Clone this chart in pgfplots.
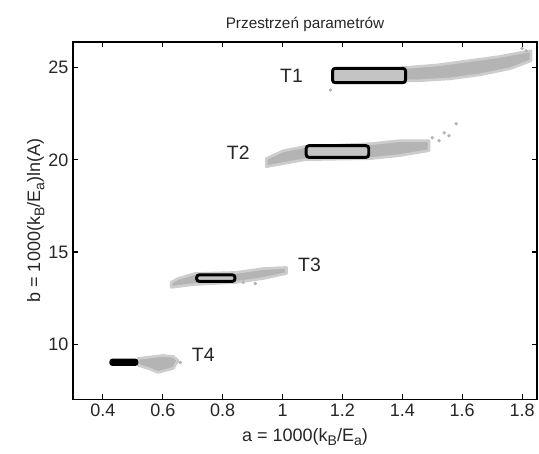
\documentclass[border=0pt]{standalone}
\usepackage{fontspec}
\setmainfont{Liberation Sans}
\usepackage{pgfplots}
\pgfplotsset{compat=1.18}
\definecolor{cloud}{RGB}{180,180,180}
\definecolor{cloudedge}{RGB}{205,205,205}
\definecolor{boxfill}{RGB}{196,196,196}
\newcommand{\sub}[1]{\raisebox{-0.45ex}{\fontsize{10.5}{12}\selectfont #1}}
\begin{document}
\begin{tikzpicture}
\begin{axis}[
  scale only axis, width=348pt, height=268pt,
  xmin=0.3, xmax=1.85, ymin=7, ymax=26.4,
  xtick={0.4,0.6,0.8,1,1.2,1.4,1.6,1.8},
  xticklabels={0.4,0.6,0.8,1,1.2,1.4,1.6,1.8},
  ytick={10,15,20,25},
  /pgf/number format/assume math mode=true,
  tick align=inside, major tick length=4pt,
  axis line style={line width=1pt},
  tick style={line width=0.8pt, black},
  ticklabel style={font=\fontsize{13.5}{16}\selectfont, text=black!85},
  label style={font=\fontsize{13.5}{16}\selectfont, text=black!85},
  title style={font=\fontsize{11.5}{14}\selectfont, text=black!85, yshift=-2pt},
  title={Przestrzeń parametrów},
  xlabel={a = 1000(k\sub{B}/E\sub{a})},
  ylabel={b = 1000(k\sub{B}/E\sub{a})ln(A)},
  xlabel style={yshift=-2pt},
  ylabel style={yshift=-4pt},
  clip=false,
]
% parameter clouds
\addplot[fill=cloud, draw=cloudedge, line width=2pt, line join=round] coordinates {
  (1.40,25.00) (1.52,25.16) (1.62,25.38) (1.72,25.60) (1.79,25.81) (1.83,25.92)
  (1.83,25.38) (1.76,24.95) (1.66,24.62) (1.56,24.40) (1.46,24.30) (1.40,24.30)} -- cycle;
\addplot[fill=cloud, draw=cloudedge, line width=2pt, line join=round] coordinates {
  (0.946,19.63) (1.02,19.85) (1.074,20.01) (1.295,20.07) (1.389,20.23) (1.489,20.50)
  (1.489,21.04) (1.389,21.04) (1.295,20.88) (1.074,20.72) (1.003,20.50) (0.946,20.07)} -- cycle;
\addplot[fill=cloud, draw=cloudedge, line width=2pt, line join=round] coordinates {
  (0.628,13.08) (0.708,13.24) (0.846,13.35) (0.936,13.56) (1.013,13.83)
  (1.013,14.16) (0.936,14.10) (0.846,13.89) (0.708,13.83) (0.651,13.56) (0.628,13.35)} -- cycle;
\addplot[fill=cloud, draw=cloudedge, line width=2pt, line join=round] coordinates {
  (0.517,9.22) (0.601,9.38) (0.635,9.33) (0.651,9.11) (0.635,8.68) (0.584,8.46)
  (0.551,8.68) (0.517,8.85)} -- cycle;
% scattered outliers
\addplot[only marks, mark=*, mark size=1.1pt, color=cloud] coordinates {
  (1.16,23.79) (1.814,25.92) (1.80,26.05) (1.523,21.04) (1.556,21.31) (1.58,21.96)
  (1.54,21.47) (1.50,21.20) (0.869,13.35) (0.909,13.29) (0.658,9.00)};
% boxes
\addplot[draw=black, line width=2.2pt, fill=boxfill, rounded corners=2pt] coordinates {
  (1.167,24.19) (1.411,24.19) (1.411,24.97) (1.167,24.97)} -- cycle;
\addplot[draw=black, line width=2.2pt, fill=boxfill, rounded corners=2pt] coordinates {
  (1.079,20.14) (1.288,20.14) (1.288,20.77) (1.079,20.77)} -- cycle;
\addplot[draw=black, line width=2.2pt, fill=boxfill, rounded corners=2pt] coordinates {
  (0.713,13.40) (0.841,13.40) (0.841,13.76) (0.713,13.76)} -- cycle;
\addplot[draw=black, line width=1.5pt, fill=black, rounded corners=1.5pt] coordinates {
  (0.425,8.87) (0.515,8.87) (0.515,9.15) (0.425,9.15)} -- cycle;
% labels
\node[font=\fontsize{14.5}{17}\selectfont, text=black!85] at (axis cs:1.03,24.54) {T1};
\node[font=\fontsize{14.5}{17}\selectfont, text=black!85] at (axis cs:0.852,20.39) {T2};
\node[font=\fontsize{14.5}{17}\selectfont, text=black!85] at (axis cs:1.09,14.32) {T3};
\node[font=\fontsize{14.5}{17}\selectfont, text=black!85] at (axis cs:0.735,9.44) {T4};
\end{axis}
\pgfresetboundingbox
\path ([shift={(-54.75pt,-40.5pt)}]current axis.south west) rectangle ([shift={(1.5pt,31.5pt)}]current axis.north east);
\end{tikzpicture}
\end{document}
